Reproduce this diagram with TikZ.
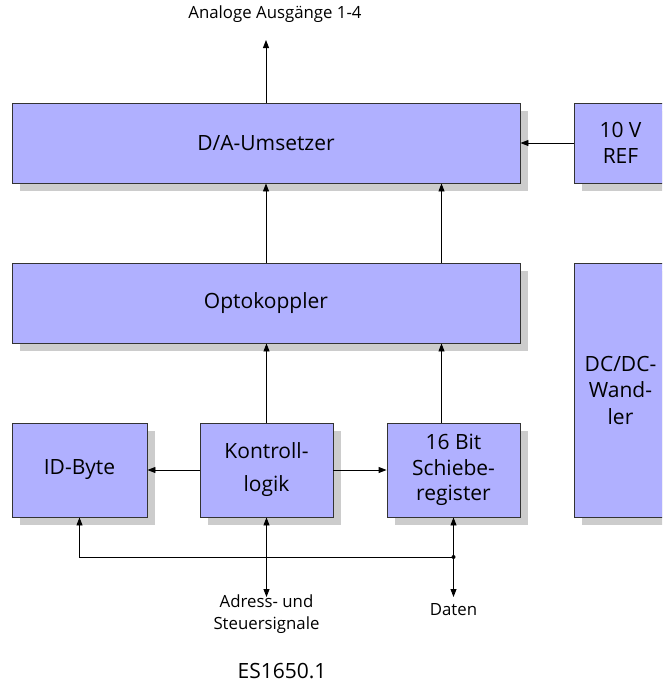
\documentclass[tikz,border=0pt]{standalone}
\usepackage{fontspec}
\setmainfont{Open Sans}
\usetikzlibrary{arrows.meta,shadows,calc}
\definecolor{blockfill}{RGB}{176,176,255}
\definecolor{blockshade}{RGB}{204,204,204}
\begin{document}
\begin{tikzpicture}[x=1pt,y=-1pt,
  block/.style={draw=black!80, line width=0.9pt, fill=blockfill, inner sep=0pt,
    align=center, font=\fontsize{21}{26.5}\selectfont,
    drop shadow={shadow xshift=8pt, shadow yshift=-8pt, fill=blockshade, opacity=1}},
  wire/.style={line width=0.9pt, draw=black},
  arr/.style={wire, -{Triangle[length=8pt,width=6pt]}},
  arrboth/.style={wire, {Triangle[length=8pt,width=6pt]}-{Triangle[length=8pt,width=6pt]}},
  smalltext/.style={font=\fontsize{16.8}{22}\selectfont, align=center, inner sep=0pt}]
  \useasboundingbox (0,0) rectangle (662,683);
  \begin{scope}
  \clip (0,0) rectangle (662,683);

  % converter stage
  \node[block, minimum width=508pt, minimum height=80pt] (da) at (266,143) {D/A-Umsetzer};
  \node[block, minimum width=93pt, minimum height=80pt] (ref) at (620.5,143) {10 V\\REF};

  % isolation stage and supply
  \node[block, minimum width=508pt, minimum height=80pt] (opto) at (266,303) {Optokoppler};
  \node[block, minimum width=93pt, minimum height=254pt] (dcdc) at (620.5,390) {DC/DC-\\Wand-\\ler};

  % logic stage
  \node[block, minimum width=135pt, minimum height=94pt] (idb) at (79.5,470) {ID-Byte};
  \node[block, minimum width=133pt, minimum height=94pt, font=\fontsize{21}{33}\selectfont] (kon) at (266.5,470) {Kontroll-\\logik};
  \node[block, minimum width=133pt, minimum height=94pt, font=\fontsize{21}{25.5}\selectfont] (sch) at (453.5,470) {16 Bit\\Schiebe-\\register};

  % free ends of the outer connections
  \coordinate (aout) at (266,40);
  \coordinate (bus) at (266.5,597);
  \coordinate (dat) at (453.5,597);
  \coordinate (junc) at (453.5,557);

  % outputs and reference
  \draw[arr] (da.north) -- (aout);
  \draw[arr] (ref.west) -- (da.east);

  % optocoupler to converter
  \draw[arr] (opto.north) -- (da.south);
  \draw[arr] ([xshift=-12pt]sch.north |- opto.north) -- ([xshift=-12pt]sch.north |- da.south);

  % logic to optocoupler
  \draw[arr] (kon.north) -- (kon.north |- opto.south);
  \draw[arr] ([xshift=-12pt]sch.north) -- ([xshift=-12pt]sch.north |- opto.south);

  % control logic to its neighbours
  \draw[arr] (kon.west) -- (idb.east);
  \draw[arr] (kon.east) -- (sch.west);

  % bus lines
  \draw[arrboth] (kon.south) -- (bus);
  \draw[arrboth] (sch.south) -- (dat);
  \draw[arr] (junc) -| (idb.south);
  \fill (junc) circle (2pt);
  \end{scope}

  % labels
  \node[smalltext] (lout) at (275,14) {Analoge Ausgänge 1-4};
  \node[smalltext, anchor=north] (lbus) at (266.5,595) {Adress- und\\Steuersignale};
  \node[smalltext] (ldat) at (453.5,610) {Daten};
  \node[font=\fontsize{21}{25}\selectfont, inner sep=0pt] (title) at (282,671) {ES1650.1};
\end{tikzpicture}
\end{document}
